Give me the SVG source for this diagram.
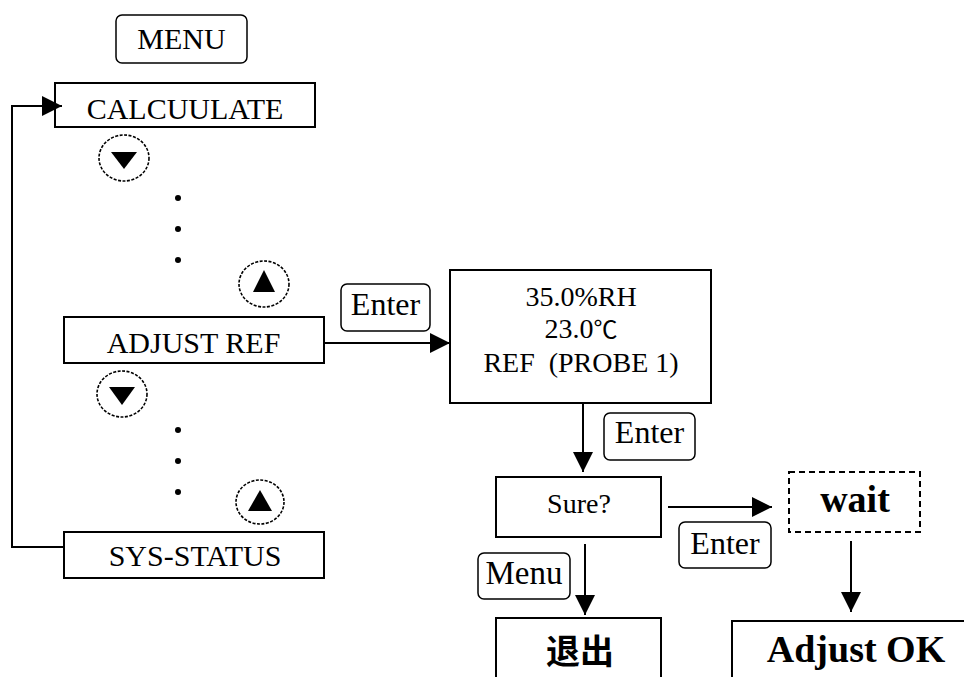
<svg xmlns="http://www.w3.org/2000/svg" width="964" height="677" viewBox="0 0 964 677">
  <style>
    .box { fill: #fff; stroke: #000; stroke-width: 2; }
    .key { fill: #fff; stroke: #000; stroke-width: 1.5; }
    .dash { fill: none; stroke: #000; stroke-width: 2; stroke-dasharray: 6 4; }
    .circ { fill: none; stroke: #000; stroke-width: 1.6; stroke-dasharray: 3 1.5; }
    .t { font-family: "Liberation Serif", "Noto Sans CJK SC", serif; fill: #000; text-anchor: middle; }
    .b { font-weight: bold; }
    .cn { font-family: "Noto Sans CJK SC", sans-serif; font-weight: bold; }
    .conn { fill: none; stroke: #000; stroke-width: 2; }
  </style>
  <defs>
    <marker id="ah" markerUnits="userSpaceOnUse" markerWidth="22" markerHeight="22" refX="20" refY="10" orient="auto">
      <path d="M0,0 L20,10 L0,20 z" fill="#000"/>
    </marker>
  </defs>
  <rect width="964" height="677" fill="#fff"/>

  <g id="menu-key">
    <rect class="key" x="116" y="15" width="131" height="48" rx="6"/>
    <text class="t" x="181.5" y="49" font-size="30">MENU</text>
  </g>

  <g id="calculate">
    <rect class="box" x="55" y="83" width="260" height="44"/>
    <text class="t" x="185" y="119" font-size="30">CALCUULATE</text>
  </g>

  <g id="down-1">
    <ellipse class="circ" cx="124" cy="158" rx="25" ry="23"/>
    <polygon points="111,152 137,152 124,169" fill="#000"/>
  </g>

  <g id="dots-1">
    <circle cx="178" cy="198" r="3"/>
    <circle cx="178" cy="229" r="3"/>
    <circle cx="178" cy="260" r="3"/>
  </g>

  <g id="up-1">
    <ellipse class="circ" cx="264" cy="284" rx="25" ry="23"/>
    <polygon points="253,292 275,292 264,270" fill="#000"/>
  </g>

  <g id="adjust-ref">
    <rect class="box" x="64" y="317" width="260" height="46"/>
    <text class="t" x="193.5" y="353" font-size="30">ADJUST REF</text>
  </g>

  <g id="down-2">
    <ellipse class="circ" cx="122" cy="394" rx="25" ry="23"/>
    <polygon points="109,387 135,387 122,405" fill="#000"/>
  </g>

  <g id="dots-2">
    <circle cx="178" cy="430" r="3"/>
    <circle cx="178" cy="461" r="3"/>
    <circle cx="178" cy="492" r="3"/>
  </g>

  <g id="up-2">
    <ellipse class="circ" cx="260" cy="502" rx="24" ry="22"/>
    <polygon points="248,511 272,511 260,490" fill="#000"/>
  </g>

  <g id="sys-status">
    <rect class="box" x="64" y="532" width="260" height="46"/>
    <text class="t" x="195" y="566" font-size="30">SYS-STATUS</text>
  </g>

  <g id="enter-1">
    <rect class="key" x="341" y="284" width="89" height="47" rx="6"/>
    <text class="t" x="385.5" y="315" font-size="32">Enter</text>
  </g>

  <g id="reading">
    <rect class="box" x="450" y="270" width="261" height="133"/>
    <text class="t" x="581" y="306" font-size="28">35.0%RH</text>
    <text class="t" x="581" y="338" font-size="28">23.0<tspan font-size="24">℃</tspan></text>
    <text class="t" x="581" y="372" font-size="28" xml:space="preserve">REF  (PROBE 1)</text>
  </g>

  <g id="enter-2">
    <rect class="key" x="604" y="413" width="91" height="47" rx="6"/>
    <text class="t" x="649.5" y="443" font-size="32">Enter</text>
  </g>

  <g id="sure">
    <rect class="box" x="496" y="477" width="165" height="60"/>
    <text class="t" x="579" y="513" font-size="28">Sure?</text>
  </g>

  <g id="enter-3">
    <rect class="key" x="679" y="522" width="92" height="46" rx="6"/>
    <text class="t" x="725" y="554" font-size="32">Enter</text>
  </g>

  <g id="wait">
    <rect class="dash" x="789" y="472" width="131" height="60"/>
    <text class="t b" x="855" y="512" font-size="38">wait</text>
  </g>

  <g id="menu-2">
    <rect class="key" x="478" y="553" width="92" height="46" rx="6"/>
    <text class="t" x="524" y="584" font-size="33">Menu</text>
  </g>

  <g id="exit">
    <rect class="box" x="496" y="618" width="165" height="70"/>
    <text class="t cn" x="580" y="664" font-size="34">退出</text>
  </g>

  <g id="adjust-ok">
    <rect class="box" x="732" y="621" width="250" height="70"/>
    <text class="t b" x="856" y="662" font-size="38">Adjust OK</text>
  </g>

  <g id="connectors">
    <polyline class="conn" points="64,547 12,547 12,106 62,106" marker-end="url(#ah)"/>
    <line class="conn" x1="324" y1="343" x2="450" y2="343" marker-end="url(#ah)"/>
    <line class="conn" x1="583" y1="403" x2="583" y2="472" marker-end="url(#ah)"/>
    <line class="conn" x1="668" y1="507" x2="772" y2="507" marker-end="url(#ah)"/>
    <line class="conn" x1="585" y1="544" x2="585" y2="615" marker-end="url(#ah)"/>
    <line class="conn" x1="851" y1="541" x2="851" y2="612" marker-end="url(#ah)"/>
  </g>
</svg>
